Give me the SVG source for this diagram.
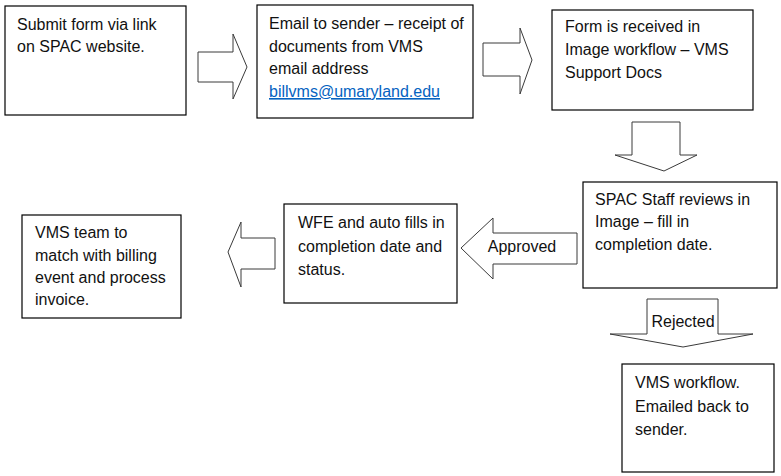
<svg xmlns="http://www.w3.org/2000/svg" width="781" height="476" viewBox="0 0 781 476">
<style>
.box{fill:#fff;stroke:#000;stroke-width:1.2}
.arr{fill:#fff;stroke:#3a3a3a;stroke-width:1}
text{font-family:"Liberation Sans",Arial,sans-serif;font-size:16px;fill:#111}
.link{fill:#0563C1;text-decoration:underline}
</style>
<rect width="781" height="476" fill="#fff"/>
<g id="connectors">
<polygon class="arr" points="198,52 233,52 233,34 247,67 233,99 233,82 198,82"/>
<polygon class="arr" points="483,43 520,43 520,28 532,60 520,94 520,76 483,76"/>
<polygon class="arr" points="632,122 680,122 680,155 697,155 664,171 615,155 632,155"/>
<polygon class="arr" points="647,299 718,299 718,334 753,334 683,347 610,334 647,334"/>
<polygon class="arr" points="577,233 577,264 493,264 493,279 461,248 493,218 493,233"/>
<text x="522" y="252" text-anchor="middle">Approved</text>
<text x="683" y="327" text-anchor="middle">Rejected</text>
<polygon class="arr" points="275,238 275,269 241,269 241,287 228,252 241,222 241,238"/>
</g>
<g id="n1"><rect class="box" x="5" y="6" width="181" height="109"/>
<text x="17" y="30">Submit form via link</text><text x="17" y="52">on SPAC website.</text></g>
<g id="n2"><rect class="box" x="257" y="5" width="216" height="113"/>
<text x="269" y="29">Email to sender – receipt of</text><text x="269" y="52">documents from VMS</text><text x="269" y="74">email address</text><text class="link" x="269" y="97">billvms@umaryland.edu</text></g>
<g id="n3"><rect class="box" x="552" y="10" width="201" height="100"/>
<text x="565" y="32">Form is received in</text><text x="565" y="55">Image workflow – VMS</text><text x="565" y="78">Support Docs</text></g>
<g id="n4"><rect class="box" x="583" y="182" width="194" height="106"/>
<text x="595" y="205">SPAC Staff reviews in</text><text x="595" y="227">Image – fill in</text><text x="595" y="250">completion date.</text></g>
<g id="n5"><rect class="box" x="284" y="204" width="173" height="99"/>
<text x="298" y="228">WFE and auto fills in</text><text x="298" y="252">completion date and</text><text x="298" y="275">status.</text></g>
<g id="n6"><rect class="box" x="22" y="215" width="159" height="103"/>
<text x="35" y="238">VMS team to</text><text x="35" y="261">match with billing</text><text x="35" y="283">event and process</text><text x="35" y="305">invoice.</text></g>
<g id="n7"><rect class="box" x="622" y="364" width="152" height="108"/>
<text x="635" y="388">VMS workflow.</text><text x="635" y="412">Emailed back to</text><text x="635" y="435">sender.</text></g>
</svg>
